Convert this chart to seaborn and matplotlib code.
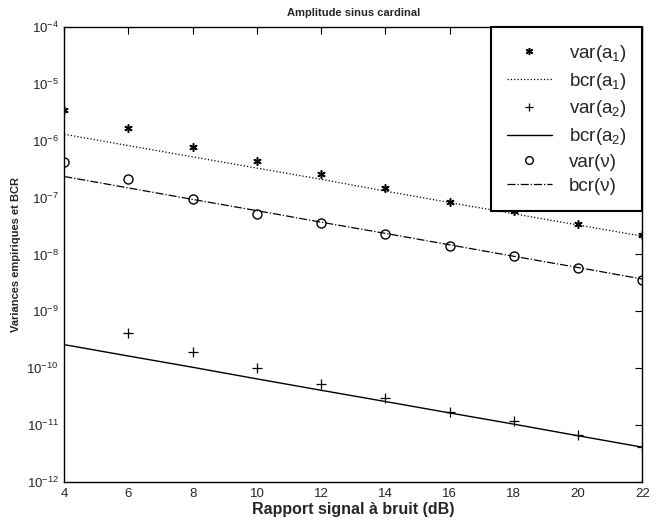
import numpy as np
import pandas as pd
import matplotlib
matplotlib.use("Agg")
import matplotlib.pyplot as plt
import seaborn as sns

# Rapport signal a bruit (dB)
snr = [4, 6, 8, 10, 12, 14, 16, 18, 20, 22]

# variances empiriques et bornes de Cramer-Rao
var_a1 = [3.5e-6, 1.65e-6, 7.8e-7, 4.4e-7, 2.6e-7, 1.47e-7, 8.3e-8, 5.8e-8, 3.5e-8, 2.2e-8]
bcr_a1 = [1.3e-6, 8.2e-7, 5.2e-7, 3.3e-7, 2.1e-7, 1.3e-7, 8.2e-8, 5.2e-8, 3.3e-8, 2.1e-8]
var_a2 = [np.nan, 4.2e-10, 1.92e-10, 1.0e-10, 5.2e-11, 2.95e-11, 1.67e-11, 1.19e-11, 6.8e-12, 4.1e-12]
bcr_a2 = [2.6e-10, 1.64e-10, 1.04e-10, 6.5e-11, 4.1e-11, 2.6e-11, 1.64e-11, 1.04e-11, 6.5e-12, 4.1e-12]
var_nu = [4.25e-7, 2.1e-7, 9.4e-8, 5.25e-8, 3.6e-8, 2.3e-8, 1.41e-8, 9.3e-9, 5.9e-9, 3.5e-9]
bcr_nu = [2.35e-7, 1.48e-7, 9.3e-8, 5.9e-8, 3.7e-8, 2.35e-8, 1.48e-8, 9.3e-9, 5.9e-9, 3.7e-9]

sns.set_style("white")
plt.rcParams["font.family"] = ["Liberation Sans", "DejaVu Sans"]
plt.rcParams["mathtext.default"] = "regular"
plt.rcParams["xtick.direction"] = "in"
plt.rcParams["ytick.direction"] = "in"

fig = plt.figure(figsize=(6.64, 5.25), dpi=100)
ax = fig.add_axes([0.0968, 0.0819, 0.8705, 0.8667])

asterisk = (6, 2, 0)
sns.lineplot(x=snr, y=var_a1, ax=ax, color="k", linestyle="none", marker=asterisk,
             markersize=6, markeredgewidth=1.1, markeredgecolor="k", label="var(a$_1$)")
sns.lineplot(x=snr, y=bcr_a1, ax=ax, color="k", linestyle=":", linewidth=0.9, label="bcr(a$_1$)")
sns.lineplot(x=snr, y=var_a2, ax=ax, color="k", linestyle="none", marker="+",
             markersize=7, markeredgewidth=0.9, markeredgecolor="k", label="var(a$_2$)")
sns.lineplot(x=snr, y=bcr_a2, ax=ax, color="k", linestyle="-", linewidth=1.0, label="bcr(a$_2$)")
sns.lineplot(x=snr, y=var_nu, ax=ax, color="k", linestyle="none", marker="o", markersize=6.5,
             markerfacecolor="none", markeredgecolor="k", markeredgewidth=1.0, label="var(ν)")
sns.lineplot(x=snr, y=bcr_nu, ax=ax, color="k", linestyle="-.", linewidth=0.9, label="bcr(ν)")

ax.set_yscale("log")
ax.set_xlim(4, 22)
ax.set_ylim(1e-12, 1e-4)
ax.set_xticks(snr)
ax.set_yticks([10.0 ** k for k in range(-12, -3)])
ax.minorticks_off()
ax.tick_params(axis="both", which="major", labelsize=9.5, length=5, width=0.8,
               top=True, right=True, color="k", pad=4)
for s in ax.spines.values():
    s.set_color("k")
    s.set_linewidth(1.0)

ax.set_title("Amplitude sinus cardinal", fontsize=8, fontweight="bold", pad=8)
ax.set_xlabel("Rapport signal à bruit (dB)", fontsize=11.5, fontweight="bold", labelpad=2)
ax.set_ylabel("Variances empiriques et BCR", fontsize=8, fontweight="bold", labelpad=4)

leg = ax.legend(loc="upper right", borderaxespad=0, fontsize=13.5, frameon=True,
                fancybox=False, framealpha=1, edgecolor="k", handlelength=2.4,
                handletextpad=0.9, labelspacing=0.36, borderpad=0.85, markerscale=0.85)
leg.get_frame().set_linewidth(1.5)

fig.savefig("out.png", dpi=100)
